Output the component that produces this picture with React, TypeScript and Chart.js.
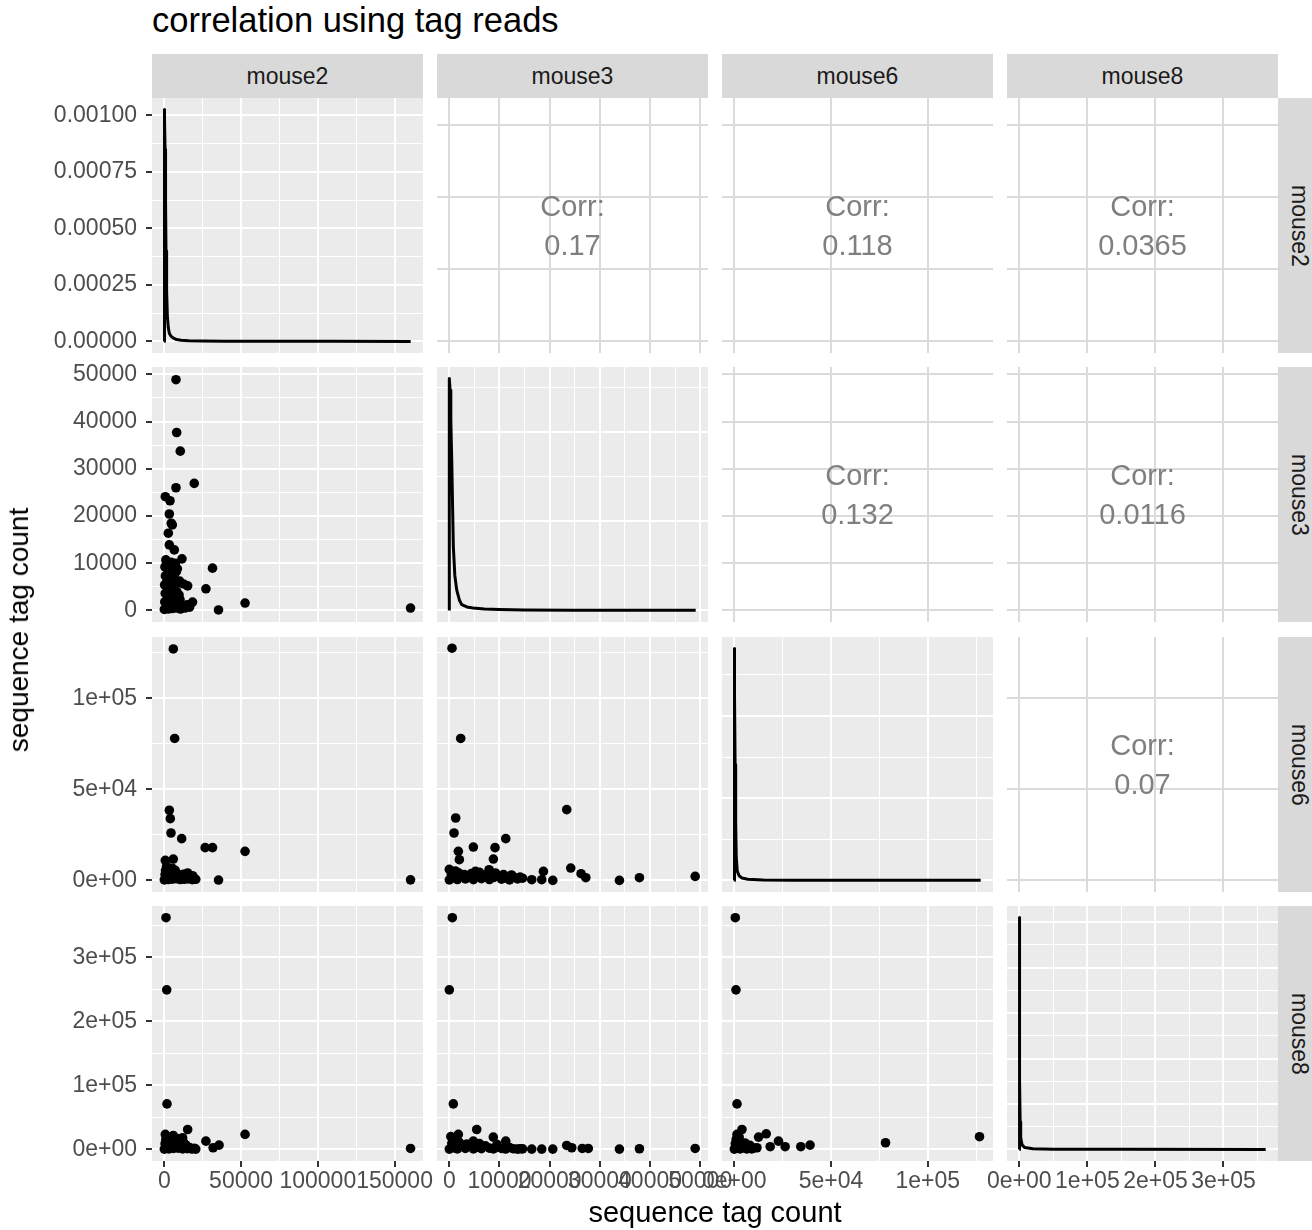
import { useEffect, useRef } from 'react';
import { Chart, registerables } from 'chart.js';

Chart.register(...registerables);

const FONT = '"Liberation Sans", Arial, Helvetica, sans-serif';

// ---------------- data ----------------
const VARIABLES = ['mouse2', 'mouse3', 'mouse6', 'mouse8'];
const VAR_MAX = [160500, 49100, 127400, 362000];

const BREAKS_M2 = [0, 50000, 100000, 150000];
const MINOR_M2 = [25000, 75000, 125000];
const LABELS_M2 = ['0', '50000', '100000', '150000'];

const BREAKS_M3 = [0, 10000, 20000, 30000, 40000, 50000];
const MINOR_M3 = [5000, 15000, 25000, 35000, 45000];
const LABELS_M3 = ['0', '10000', '20000', '30000', '40000', '50000'];

const BREAKS_M6 = [0, 50000, 100000];
const MINOR_M6 = [25000, 75000, 125000];
const LABELS_M6 = ['0e+00', '5e+04', '1e+05'];

const BREAKS_M8 = [0, 100000, 200000, 300000];
const MINOR_M8 = [50000, 150000, 250000, 350000];
const LABELS_M8 = ['0e+00', '1e+05', '2e+05', '3e+05'];

// density curves (diagonal)
const DENS_M2_X = [0, 0, 250, 500, 800, 1100, 1500, 2000, 2600, 3300, 4500, 6000, 8000, 11000, 16000, 25000, 40000, 70000, 110000, 160500];
const DENS_M2_Y = [0, 0.001025, 0.00098, 0.00085, 0.00062, 0.0004, 0.00022, 0.00011, 0.00006, 0.000035, 0.000022, 0.000014, 0.000008, 0.000005, 0.000003, 0.0000015, 0.0000008, 0.0000004, 0.0000002, 0.0000001];
const DENS_M2_BREAKS = [0, 0.00025, 0.0005, 0.00075, 0.001];
const DENS_M2_MINOR = [0.000125, 0.000375, 0.000625, 0.000875];
const DENS_M2_LABELS = ['0.00000', '0.00025', '0.00050', '0.00075', '0.00100'];

const DENS_M3_X = [0, 0, 150, 300, 480, 800, 1100, 1475, 2000, 2470, 3500, 4725, 7000, 10000, 15000, 25000, 35000, 49100];
const DENS_M3_Y = [0, 0.0026, 0.00247, 0.00213, 0.00169, 0.00072, 0.00039, 0.00023, 0.000117, 0.000065, 0.000039, 0.000026, 0.0000156, 0.0000104, 0.0000052, 0.0000026, 0.0000013, 0.0000005];
const DENS_M3_BREAKS = [0, 0.001, 0.002];
const DENS_M3_MINOR = [0.0005, 0.0015, 0.0025];

const DENS_M6_X = [0, 0, 200, 400, 700, 1000, 1500, 2500, 4000, 7000, 15000, 30000, 60000, 127400];
const DENS_M6_Y = [0, 0.00282, 0.00226, 0.00141, 0.000705, 0.000282, 0.000113, 0.0000564, 0.0000282, 0.0000141, 0.0000056, 0.0000028, 0.0000014, 0.0000006];
const DENS_M6_BREAKS = [0, 0.001, 0.002];
const DENS_M6_MINOR = [0.0005, 0.0015, 0.0025];

const DENS_M8_X = [0, 0, 300, 700, 1200, 2000, 4000, 8000, 20000, 50000, 150000, 362000];
const DENS_M8_Y = [0, 0.000051, 0.0000306, 0.0000153, 0.0000061, 0.0000026, 0.000001, 0.0000004, 0.00000015, 0.00000005, 0.000000015, 0.000000005];
const DENS_M8_BREAKS = [0, 0.00001, 0.00002, 0.00003, 0.00004, 0.00005];
const DENS_M8_MINOR = [0.000005, 0.000015, 0.000025, 0.000035, 0.000045];

// correlations (upper panels)
const CORR_ROW = [0, 0, 0, 1, 1, 2];
const CORR_COL = [1, 2, 3, 2, 3, 3];
const CORR_VALUES = ['0.17', '0.118', '0.0365', '0.132', '0.0116', '0.07'];

// scatter points (lower panels) [x, y]
const PTS_M2_M3 = [
  [7600, 48870], [8050, 37680], [10400, 33730], [19500, 26900], [7600, 25980], [650, 24080], [3700, 23230],
  [3250, 20420], [4550, 18460], [5200, 18100], [2600, 16350], [3250, 13880], [6500, 12820], [11500, 10920],
  [31400, 8950], [27100, 4580], [15200, 5200], [18400, 1770], [52600, 1560], [35300, 100], [160400, 500],
  [0, 200], [1200, 600], [2500, 300], [3800, 900], [5000, 400], [6300, 1100], [7600, 500], [9000, 900],
  [10500, 300], [12000, 1000], [13500, 500], [14800, 1200], [16500, 700],
  [300, 1800], [1800, 2200], [3200, 1600], [4600, 2500], [6000, 2000], [7400, 2700], [8800, 1900], [10200, 2300],
  [600, 3600], [2100, 4000], [3500, 3400], [5000, 4300], [6400, 3700], [8000, 4100], [9600, 3300], [12500, 5600],
  [200, 5400], [1500, 5900], [2900, 5200], [4300, 6100], [5700, 5500], [7100, 6300], [8600, 5800], [10000, 6200],
  [700, 7300], [2200, 7800], [3600, 7100], [5000, 8000], [6400, 7500], [7800, 8200],
  [400, 9200], [1600, 9800], [3000, 9400], [4400, 10200], [5800, 9600], [7200, 10000], [1000, 10700], [8500, 8800],
];

const PTS_M2_M6 = [
  [5850, 127200], [6750, 78000], [3250, 38550], [3900, 33950], [4350, 26050], [11300, 22950], [26600, 18000],
  [31400, 18000], [52600, 15970], [650, 11000], [5850, 11730], [35300, 200], [160400, 300],
  [0, 300], [1300, 1200], [2600, 500], [3900, 1800], [5200, 700], [6500, 2200], [7800, 900], [9100, 1600],
  [10400, 500], [11700, 1300], [13000, 600], [14300, 1900], [15600, 800], [16900, 1500], [18200, 400],
  [19500, 1100], [20500, 600],
  [500, 3200], [2000, 3800], [3500, 2900], [5000, 4200], [6500, 3500], [8000, 4000], [9500, 3000], [12500, 3400],
  [14000, 2700], [800, 5500], [2300, 6200], [3800, 5200], [5300, 6600], [1500, 7800], [7000, 5600],
  [15200, 4100], [18400, 2600],
];

const PTS_M2_M8 = [
  [1100, 361800], [1560, 249200], [1750, 71100], [15200, 31100], [52600, 23400], [27100, 12900], [35700, 6700],
  [31800, 2600], [160400, 1500], [650, 23400], [5850, 21800], [11900, 18200],
  [0, 500], [1500, 3000], [3000, 800], [4500, 4500], [6000, 1500], [7500, 6000], [9000, 2000], [10500, 4000],
  [12000, 800], [13500, 3500], [15000, 1200], [16500, 2800], [18000, 600], [19500, 1800], [20500, 500],
  [500, 9000], [2500, 12000], [4000, 8000], [5500, 14000], [7000, 10500], [8500, 13000], [10000, 9500],
  [12500, 11000], [3000, 17000], [9000, 16500], [14000, 7000], [1000, 15500],
];

const PTS_M3_M6 = [
  [540, 127600], [2270, 78000], [1270, 34300], [940, 26050], [23400, 38900], [11250, 22950], [4790, 18350],
  [9110, 18000], [1800, 15970], [2000, 11380], [8780, 11730], [24200, 6790], [7920, 5890], [0, 6060],
  [26260, 3690], [27200, 1490], [18750, 4960], [16430, 390], [18420, 400], [20620, 0], [33900, 0],
  [37890, 1490], [49000, 2200], [14100, 1800],
  [0, 300], [800, 1500], [1600, 500], [2400, 2200], [3200, 800], [4000, 1800], [4800, 400], [5600, 2600],
  [6400, 1000], [7200, 2000], [8000, 500], [8800, 1600], [9600, 2400], [10400, 700], [11200, 1400],
  [12000, 300], [12800, 1900], [13600, 800], [14600, 1200],
  [400, 3400], [1800, 4200], [3000, 3200], [4400, 3800], [6000, 4500], [7600, 3500], [9200, 4100],
  [10800, 3200], [1200, 5200], [5200, 5000], [12400, 3000],
];

const PTS_M3_M8 = [
  [600, 361800], [0, 249200], [800, 71100], [5460, 31100], [1800, 23400], [8770, 19200], [4790, 12900],
  [11250, 12900], [23400, 6200], [24400, 2600], [26500, 1500], [27700, 1500], [16430, 500], [18420, 500],
  [20620, 500], [33900, 500], [37890, 1000], [49000, 1500], [14100, 1000], [300, 20000],
  [0, 500], [800, 2500], [1600, 800], [2400, 4500], [3200, 1500], [4000, 6000], [4800, 800], [5600, 3500],
  [6400, 1200], [7200, 5500], [8000, 2000], [8800, 800], [9600, 4000], [10400, 1500], [11200, 600],
  [12000, 3000], [12800, 1000], [13600, 500], [14600, 800],
  [500, 9500], [2000, 11000], [3500, 8500], [6000, 9000], [1200, 14000], [9500, 8000],
];

const PTS_M6_M8 = [
  [500, 361800], [860, 249200], [1390, 71100], [3950, 31100], [1390, 23400], [12540, 19200], [16500, 24400],
  [18560, 4200], [22840, 12900], [26290, 4200], [34380, 4200], [39180, 6700], [11700, 2600], [78200, 10400],
  [126800, 19800],
  [0, 500], [1500, 3000], [3000, 800], [4500, 5000], [6000, 1500], [7500, 3500], [9000, 800], [10000, 2000],
  [500, 9000], [2000, 12000], [3500, 7500], [5500, 10000], [1000, 16000], [8000, 6500], [2500, 19000], [6500, 800],
];

// ---------------- layout ----------------
const COL_LEFT = [152, 437, 722, 1007];
const ROW_TOP = [98, 367, 637, 906];
const PW = 271;
const PH = 255;
const M = 40;
const LEFT_AXIS = 112;
const BOTTOM_AXIS = 50;
const STRIP_TOP = 54;
const STRIP_H = 44;

type Axis = { range: number[]; major: number[]; minor: number[]; labels: string[] };

function expand(lo: number, hi: number) {
  const s = hi - lo;
  return [lo - 0.05 * s, hi + 0.05 * s];
}

const VAR_AXES: Axis[] = [
  { range: expand(0, VAR_MAX[0]), major: BREAKS_M2, minor: MINOR_M2, labels: LABELS_M2 },
  { range: expand(0, VAR_MAX[1]), major: BREAKS_M3, minor: MINOR_M3, labels: LABELS_M3 },
  { range: expand(0, VAR_MAX[2]), major: BREAKS_M6, minor: MINOR_M6, labels: LABELS_M6 },
  { range: expand(0, VAR_MAX[3]), major: BREAKS_M8, minor: MINOR_M8, labels: LABELS_M8 },
];

const DENS = [
  { x: DENS_M2_X, y: DENS_M2_Y },
  { x: DENS_M3_X, y: DENS_M3_Y },
  { x: DENS_M6_X, y: DENS_M6_Y },
  { x: DENS_M8_X, y: DENS_M8_Y },
];

const DENS_AXES: Axis[] = [
  { range: expand(0, Math.max(...DENS_M2_Y)), major: DENS_M2_BREAKS, minor: DENS_M2_MINOR, labels: DENS_M2_LABELS },
  { range: expand(0, Math.max(...DENS_M3_Y)), major: DENS_M3_BREAKS, minor: DENS_M3_MINOR, labels: [] },
  { range: expand(0, Math.max(...DENS_M6_Y)), major: DENS_M6_BREAKS, minor: DENS_M6_MINOR, labels: [] },
  { range: expand(0, Math.max(...DENS_M8_Y)), major: DENS_M8_BREAKS, minor: DENS_M8_MINOR, labels: [] },
];

const SCATTER: Record<string, number[][]> = {
  '10': PTS_M2_M3,
  '20': PTS_M2_M6,
  '30': PTS_M2_M8,
  '21': PTS_M3_M6,
  '31': PTS_M3_M8,
  '32': PTS_M6_M8,
};

type Spec = {
  id: string;
  left: number;
  top: number;
  axisW: number;
  axisH: number;
  x: Axis;
  y: Axis;
  showX: boolean;
  showY: boolean;
  bg: string;
  grid: string;
  minor: boolean;
  points?: number[][];
  line?: { x: number[]; y: number[] };
};

const SPECS: Spec[] = [];
for (let r = 0; r < 4; r++) {
  for (let c = 0; c < 4; c++) {
    const upper = r < c;
    const s: Spec = {
      id: `p${r}${c}`,
      left: COL_LEFT[c],
      top: ROW_TOP[r],
      axisW: c === 0 ? LEFT_AXIS : 0,
      axisH: r === 3 ? BOTTOM_AXIS : 0,
      x: VAR_AXES[c],
      y: r === c ? DENS_AXES[r] : VAR_AXES[r],
      showX: r === 3,
      showY: c === 0,
      bg: upper ? '#FFFFFF' : '#EBEBEB',
      grid: upper ? '#DBDBDB' : '#FFFFFF',
      minor: !upper,
    };
    if (r === c) s.line = DENS[r];
    if (r > c) s.points = SCATTER[`${r}${c}`];
    SPECS.push(s);
  }
}

const bgPlugin = {
  id: 'panelBg',
  beforeDraw(chart: any, _args: any, opts: any) {
    const a = chart.chartArea;
    const ctx = chart.ctx;
    ctx.save();
    ctx.fillStyle = opts.color;
    ctx.fillRect(a.left, a.top, a.right - a.left, a.bottom - a.top);
    ctx.restore();
  },
};

function scaleCfg(ax: Axis, horizontal: boolean, show: boolean, size: number, withMinor: boolean, gridColor: string) {
  const tol = Math.abs(ax.range[1] - ax.range[0]) * 1e-9;
  const isMajor = (v: number) => ax.major.some((m) => Math.abs(m - v) <= tol);
  return {
    type: 'linear',
    position: horizontal ? 'bottom' : 'left',
    min: ax.range[0],
    max: ax.range[1],
    bounds: 'data',
    afterBuildTicks: (s: any) => {
      const vals = withMinor ? [...ax.major, ...ax.minor] : [...ax.major];
      vals.sort((a, b) => a - b);
      s.ticks = vals.filter((v) => v >= ax.range[0] && v <= ax.range[1]).map((v) => ({ value: v }));
    },
    afterFit: (s: any) => {
      if (horizontal) s.height = size;
      else s.width = size;
      s.paddingLeft = 0;
      s.paddingRight = 0;
      s.paddingTop = 0;
      s.paddingBottom = 0;
    },
    border: { display: false },
    grid: {
      color: gridColor,
      lineWidth: (c: any) => (c.tick && isMajor(c.tick.value) ? 2 : 1),
      drawTicks: show,
      tickLength: 6,
      tickWidth: 2,
      tickColor: (c: any) => (c.tick && isMajor(c.tick.value) ? '#333333' : 'rgba(0,0,0,0)'),
    },
    ticks: {
      display: show,
      autoSkip: false,
      maxRotation: 0,
      minRotation: 0,
      padding: horizontal ? 1 : 9,
      color: '#4D4D4D',
      font: { family: FONT, size: 23 },
      callback: (v: any) => {
        const i = ax.major.findIndex((m) => Math.abs(m - v) <= tol);
        return i >= 0 && ax.labels[i] !== undefined ? ax.labels[i] : '';
      },
    },
  };
}

function PanelChart({ spec }: { spec: Spec }) {
  const ref = useRef<HTMLCanvasElement | null>(null);
  const w = PW + 2 * M + spec.axisW;
  const h = PH + 2 * M + spec.axisH;
  useEffect(() => {
    if (!ref.current) return;
    const datasets: any[] = [];
    if (spec.points) {
      datasets.push({
        data: spec.points.map(([x, y]) => ({ x, y })),
        pointRadius: 4.8,
        pointHoverRadius: 4.8,
        pointBorderWidth: 0,
        pointBackgroundColor: '#000000',
        showLine: false,
      });
    }
    if (spec.line) {
      const ln = spec.line;
      datasets.push({
        data: ln.x.map((x, i) => ({ x, y: ln.y[i] })),
        showLine: true,
        borderColor: '#000000',
        borderWidth: 3,
        pointRadius: 0,
        pointHoverRadius: 0,
        tension: 0,
        fill: false,
        borderJoinStyle: 'round',
      });
    }
    const chart = new Chart(ref.current, {
      type: 'scatter',
      data: { datasets },
      options: {
        responsive: false,
        animation: false,
        devicePixelRatio: 1,
        events: [],
        layout: { padding: M },
        plugins: {
          legend: { display: false },
          tooltip: { enabled: false },
          panelBg: { color: spec.bg },
        } as any,
        scales: {
          x: scaleCfg(spec.x, true, spec.showX, spec.axisH, spec.minor, spec.grid) as any,
          y: scaleCfg(spec.y, false, spec.showY, spec.axisW, spec.minor, spec.grid) as any,
        },
      },
      plugins: [bgPlugin as any],
    });
    return () => chart.destroy();
  }, [spec]);
  return (
    <canvas
      ref={ref}
      width={w}
      height={h}
      style={{ position: 'absolute', left: spec.left - M - spec.axisW, top: spec.top - M, width: w, height: h }}
    />
  );
}

export default function App() {
  return (
    <div
      style={{
        position: 'absolute',
        left: 0,
        top: 0,
        width: 1312,
        height: 1230,
        background: '#FFFFFF',
        overflow: 'hidden',
        fontFamily: FONT,
      }}
    >
      <div style={{ position: 'absolute', left: 152, top: 3, fontSize: 34.5, lineHeight: '34px', color: '#000', whiteSpace: 'nowrap' }}>
        correlation using tag reads
      </div>
      {VARIABLES.map((v, i) => (
        <div
          key={'ts' + i}
          style={{
            position: 'absolute',
            left: COL_LEFT[i],
            top: STRIP_TOP,
            width: PW,
            height: STRIP_H,
            background: '#D9D9D9',
            color: '#1A1A1A',
            fontSize: 23,
            lineHeight: '23px',
            display: 'flex',
            alignItems: 'center',
            justifyContent: 'center',
          }}
        >
          {v}
        </div>
      ))}
      {VARIABLES.map((v, i) => (
        <div
          key={'rs' + i}
          style={{ position: 'absolute', left: COL_LEFT[3] + PW, top: ROW_TOP[i], width: 42, height: PH, background: '#D9D9D9' }}
        >
          <div
            style={{
              position: 'absolute',
              left: '50%',
              top: '50%',
              transform: 'translate(-50%, -50%) rotate(90deg)',
              fontSize: 23,
              lineHeight: '23px',
              color: '#1A1A1A',
              whiteSpace: 'nowrap',
            }}
          >
            {v}
          </div>
        </div>
      ))}
      {SPECS.map((s) => (
        <PanelChart key={s.id} spec={s} />
      ))}
      {CORR_VALUES.map((v, i) => (
        <div
          key={'corr' + i}
          style={{
            position: 'absolute',
            left: COL_LEFT[CORR_COL[i]],
            top: ROW_TOP[CORR_ROW[i]],
            width: PW,
            height: PH,
            display: 'flex',
            flexDirection: 'column',
            alignItems: 'center',
            justifyContent: 'center',
            color: '#7F7F7F',
            fontSize: 29,
            lineHeight: '39px',
          }}
        >
          <div>Corr:</div>
          <div>{v}</div>
        </div>
      ))}
      <div
        style={{
          position: 'absolute',
          left: 715,
          top: 1212,
          transform: 'translate(-50%, -50%)',
          fontSize: 29,
          lineHeight: '29px',
          color: '#000',
          whiteSpace: 'nowrap',
        }}
      >
        sequence tag count
      </div>
      <div
        style={{
          position: 'absolute',
          left: 19,
          top: 630,
          transform: 'translate(-50%, -50%) rotate(-90deg)',
          fontSize: 28,
          lineHeight: '28px',
          color: '#000',
          whiteSpace: 'nowrap',
        }}
      >
        sequence tag count
      </div>
    </div>
  );
}
